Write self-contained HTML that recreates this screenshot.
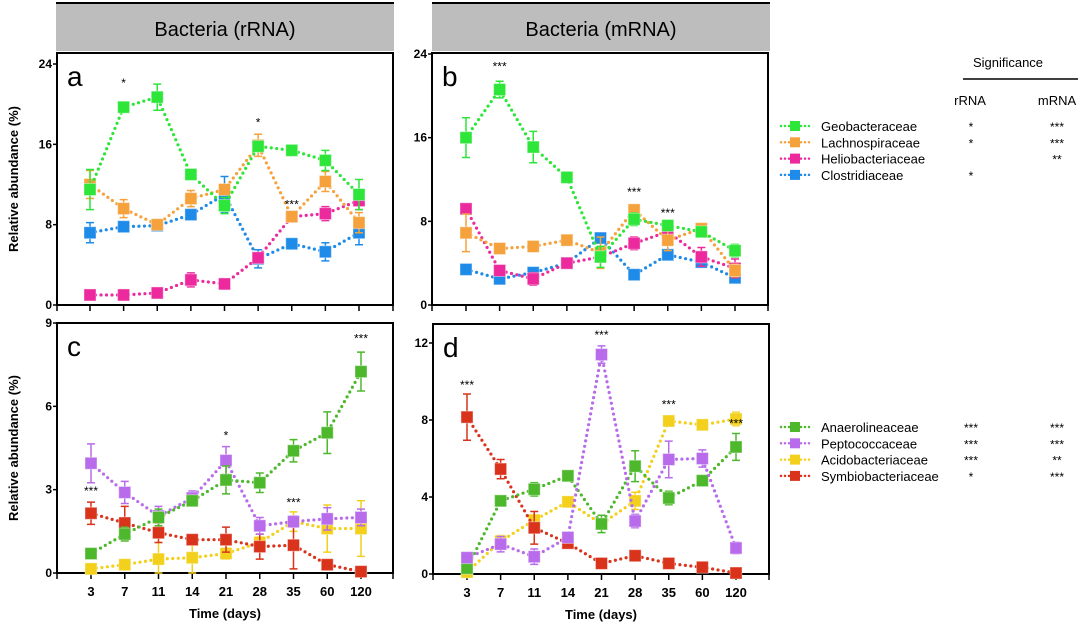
<!DOCTYPE html>
<html><head><meta charset="utf-8"><style>
body{margin:0;background:#fff;width:1080px;height:629px;overflow:hidden}
svg{font-family:"Liberation Sans",Arial,sans-serif}
</style></head><body>
<svg id="fig" width="1080" height="629" viewBox="0 0 1080 629">
<g>
<rect x="56" y="4" width="338" height="47" fill="#bdbdbd"/><line x1="56" y1="3" x2="394" y2="3" stroke="#000" stroke-width="2"/>
<text x="225" y="36" font-size="20" text-anchor="middle">Bacteria (rRNA)</text></g>
<g>
<rect x="432" y="4" width="338" height="47" fill="#bdbdbd"/><line x1="432" y1="3" x2="770" y2="3" stroke="#000" stroke-width="2"/>
<text x="601" y="36" font-size="20" text-anchor="middle">Bacteria (mRNA)</text></g>
<g>
<text x="1008" y="67" font-size="13" text-anchor="middle">Significance</text>
<line x1="963" y1="79" x2="1078" y2="79" stroke="#000" stroke-width="1.5"/>
<text x="970" y="105" font-size="13" text-anchor="middle">rRNA</text>
<text x="1057" y="105" font-size="13" text-anchor="middle">mRNA</text></g>
</svg>
<script>
const days=["3","7","11","14","21","28","35","60","120"];
// panel a (rRNA top)
const aGeo=[11.5,19.7,20.7,13,9.9,15.8,15.4,14.4,11];
const aLach=[12,9.6,8,10.6,11.5,15.9,8.8,12.3,8.2];
const aHelio=[1,1,1.2,2.5,2.1,4.7,8.8,9.1,10.4];
const aClost=[7.2,7.8,7.9,9,11,4.6,6.1,5.3,7.2];
const aGeoErr=[2,0.3,1.3,0.3,0.8,0.4,0.5,1,1.5];
const aLachErr=[1.4,0.9,0.3,0.8,0.5,1.1,0.5,1,1];
const aHelioErr=[0.2,0.2,0.3,0.7,0.3,0.4,0.3,0.7,0.9];
const aClostErr=[1,0.3,0.3,0.3,1.8,0.9,0.3,0.9,1.2];
// panel b (mRNA top)
const bGeo=[16,20.6,15.1,12.2,4.6,8.2,7.6,7.0,5.2];
const bLach=[6.9,5.4,5.6,6.2,5.0,9.1,6.2,7.3,3.3];
const bHelio=[9.2,3.3,2.5,4.0,4.6,5.9,7.0,4.6,3.5];
const bClost=[3.4,2.5,3.1,4.0,6.4,2.9,4.8,4.1,2.6];
const bGeoErr=[1.9,0.8,1.5,0.5,1,0.6,0.5,0.3,0.6];
const bLachErr=[1.8,0.3,0.3,0.3,1.5,0.3,1,0.3,0.6];
const bHelioErr=[0.3,0.3,0.6,0.3,0.5,0.6,0.8,0.9,0.9];
const bClostErr=[0.3,0.3,0.3,0.3,0.3,0.3,0.3,0.3,0.3];
// panel c
const cAna=[0.7,1.4,2.0,2.6,3.35,3.25,4.4,5.05,7.25];
const cPep=[3.95,2.9,2.05,2.7,4.05,1.7,1.85,1.95,2.0];
const cAci=[0.15,0.3,0.5,0.55,0.7,1.1,1.85,1.6,1.6];
const cSym=[2.15,1.8,1.45,1.2,1.2,0.95,1.0,0.3,0.05];
const cAnaErr=[0.1,0.25,0.3,0.15,0.5,0.35,0.4,0.75,0.7];
const cPepErr=[0.7,0.4,0.35,0.25,0.5,0.3,0.2,0.4,0.3];
const cAciErr=[0.1,0.1,0.6,0.6,0.2,0.2,0.35,0.85,1.0];
const cSymErr=[0.4,0.6,0.35,0.15,0.45,0.45,0.85,0.15,0.05];
// panel d
const dAna=[0.3,3.8,4.4,5.1,2.6,5.6,3.95,4.85,6.6];
const dPep=[0.85,1.55,0.9,1.9,11.4,2.75,5.95,6.0,1.35];
const dAci=[0.1,1.7,2.8,3.75,2.6,3.8,7.95,7.75,8.05];
const dSym=[8.15,5.45,2.4,1.6,0.55,0.95,0.55,0.35,0.05];
const dAnaErr=[0.2,0.15,0.35,0.15,0.45,0.8,0.35,0.2,0.7];
const dPepErr=[0.15,0.4,0.4,0.2,0.45,0.35,0.95,0.45,0.3];
const dAciErr=[0.1,0.3,0.2,0.15,0.2,0.45,0.15,0.15,0.35];
const dSymErr=[1.2,0.5,0.85,0.15,0.1,0.1,0.1,0.1,0.05];
const aTicks=[0,8,16,24],bTicks=[0,8,16,24],cTicks=[0,3,6,9],dTicks=[0,4,8,12];
const topNames=["Geobacteraceae","Lachnospiraceae","Heliobacteriaceae","Clostridiaceae"];
const botNames=["Anaerolineaceae","Peptococcaceae","Acidobacteriaceae","Symbiobacteriaceae"];
const topSig=[["*","***"],["*","***"],["","**"],["*",""]];
const botSig=[["***","***"],["***","***"],["***","**"],["*","***"]];
const topCol=["#2ee63a","#f5a23c","#ec2a9e","#1f8be8"];
const botCol=["#4db82b","#b86ceb","#f2d01c","#d9331c"];
const NS="http://www.w3.org/2000/svg";
const svg=document.getElementById('fig');
function mk(tag,at,parent){const e=document.createElementNS(NS,tag);for(const k in at)e.setAttribute(k,at[k]);(parent||svg).appendChild(e);return e;}
function panel(cfg){
  const g=mk('g',{});
  
  
  const X=i=>cfg.x3+i*(cfg.x120-cfg.x3)/8;
  const Y=v=>cfg.y0-(cfg.y0-cfg.yTop)*v/cfg.ymax;
  mk('rect',{x:cfg.L,y:cfg.T,width:cfg.R-cfg.L,height:cfg.y0-cfg.T,fill:'#fff',stroke:'#000','stroke-width':2},g);
  cfg.ticks.forEach(t=>{
    const tl=mk('text',{x:cfg.L-5,y:Y(t)+4,'font-size':12,'font-weight':'bold','text-anchor':'end'},g);tl.textContent=t;
    
    
    mk('line',{x1:cfg.L-4,x2:cfg.L,y1:Y(t),y2:Y(t),stroke:'#000','stroke-width':1.5},g);
  });
  [cfg.L,cfg.R].forEach(x=>mk('line',{x1:x,x2:x,y1:cfg.y0,y2:cfg.y0+6,stroke:'#000','stroke-width':1.5},g));
  days.forEach((d,i)=>{
    mk('line',{x1:X(i),x2:X(i),y1:cfg.y0,y2:cfg.y0+6,stroke:'#000','stroke-width':1.5},g);
    if(cfg.labels){const t=mk('text',{x:X(i),y:cfg.y0+23,'font-size':13,'font-weight':'bold','text-anchor':'middle'},g);t.textContent=d;
      
      }
  });
  if(cfg.labels){const t=mk('text',{x:(cfg.L+cfg.R)/2,y:cfg.y0+45,'font-size':13,'font-weight':'bold','text-anchor':'middle'},g);t.textContent='Time (days)';
    
    }
  if(cfg.ytitle){const cy=(cfg.T+cfg.y0)/2;const t=mk('text',{x:18,y:cy,'font-size':13,'font-weight':'bold','text-anchor':'middle',transform:`rotate(-90 18 ${cy})`},g);t.textContent='Relative abundance (%)';
    
    }
  const lt=mk('text',{x:cfg.L+10,y:cfg.T+33,'font-size':28},g);lt.textContent=cfg.letter;
  
  
  cfg.series.forEach((s,si)=>{
    const sg=mk('g',{},g);
    
    
    mk('polyline',{points:s.v.map((v,i)=>X(i)+','+Y(v)).join(' '),fill:'none',stroke:s.c,'stroke-width':3.2,'stroke-linecap':'round','stroke-dasharray':'0 5.5'},sg);
    s.v.forEach((v,i)=>{
      const e=s.e[i],x=X(i);
      mk('path',{d:`M${x},${Y(v+e)}V${Y(Math.max(0,v-e))}M${x-4},${Y(v+e)}h8M${x-4},${Y(Math.max(0,v-e))}h8`,stroke:s.c,'stroke-width':1.5,fill:'none'},sg);
      const r=mk('rect',{x:x-6,y:Y(v)-6,width:12,height:12,fill:s.c,stroke:'#fff','stroke-opacity':0.4,'stroke-width':1},sg);
      
      
    });
  });
  cfg.stars.forEach(st=>{const t=mk('text',{x:X(st[0]),y:Y(st[1]),'font-size':12,'text-anchor':'middle'},g);t.textContent=st[2];
    
    });
}
panel({name:'panel-a',letter:'a',L:57,R:393,T:53,y0:305,yTop:64,ymax:24,x3:90,x120:359,ticks:aTicks,labels:false,ytitle:true,
 series:[{name:'Clostridiaceae',v:aClost,e:aClostErr,c:topCol[3]},{name:'Heliobacteriaceae',v:aHelio,e:aHelioErr,c:topCol[2]},{name:'Lachnospiraceae',v:aLach,e:aLachErr,c:topCol[1]},{name:'Geobacteraceae',v:aGeo,e:aGeoErr,c:topCol[0]}],
 stars:[[1,21.7,'*'],[5,17.8,'*'],[6,9.6,'***']]});
panel({name:'panel-b',letter:'b',L:432,R:768,T:53,y0:305,yTop:54,ymax:24,x3:466,x120:735,ticks:bTicks,labels:false,ytitle:false,
 series:[{name:'Clostridiaceae',v:bClost,e:bClostErr,c:topCol[3]},{name:'Heliobacteriaceae',v:bHelio,e:bHelioErr,c:topCol[2]},{name:'Lachnospiraceae',v:bLach,e:bLachErr,c:topCol[1]},{name:'Geobacteraceae',v:bGeo,e:bGeoErr,c:topCol[0]}],
 stars:[[1,22.4,'***'],[5,10.4,'***'],[6,8.4,'***']]});
panel({name:'panel-c',letter:'c',L:57,R:393,T:323,y0:573,yTop:323,ymax:9,x3:91,x120:361,ticks:cTicks,labels:true,ytitle:true,
 series:[{name:'Acidobacteriaceae',v:cAci,e:cAciErr,c:botCol[2]},{name:'Symbiobacteriaceae',v:cSym,e:cSymErr,c:botCol[3]},{name:'Peptococcaceae',v:cPep,e:cPepErr,c:botCol[1]},{name:'Anaerolineaceae',v:cAna,e:cAnaErr,c:botCol[0]}],
 stars:[[0,2.8,'***'],[5-1,4.8,'*'],[6,2.4,'***'],[8,8.3,'***']]});
panel({name:'panel-d',letter:'d',L:433,R:769,T:324,y0:574,yTop:343,ymax:12,x3:467,x120:736,ticks:dTicks,labels:true,ytitle:false,
 series:[{name:'Acidobacteriaceae',v:dAci,e:dAciErr,c:botCol[2]},{name:'Symbiobacteriaceae',v:dSym,e:dSymErr,c:botCol[3]},{name:'Anaerolineaceae',v:dAna,e:dAnaErr,c:botCol[0]},{name:'Peptococcaceae',v:dPep,e:dPepErr,c:botCol[1]}],
 stars:[[0,9.6,'***'],[4,12.2,'***'],[6,8.6,'***'],[8,7.6,'***']]});
function legend(names,cols,sig,y0,name){
  const g=mk('g',{});
  
  
  names.forEach((n,i)=>{
    const y=y0+i*16.3;
    const e=mk('g',{},g);
    
    
    mk('line',{x1:781,x2:811,y1:y,y2:y,stroke:cols[i],'stroke-width':2.5,'stroke-linecap':'round','stroke-dasharray':'0 4'},e);
    mk('rect',{x:790,y:y-5,width:10,height:10,fill:cols[i]},e);
    const t=mk('text',{x:821,y:y+5,'font-size':13},e);t.textContent=n;
    const s1=mk('text',{x:971,y:y+5,'font-size':12,'text-anchor':'middle'},e);s1.textContent=sig[i][0];
    const s2=mk('text',{x:1057,y:y+5,'font-size':12,'text-anchor':'middle'},e);s2.textContent=sig[i][1];
  });
}
legend(topNames,topCol,topSig,126,'legend-top');
legend(botNames,botCol,botSig,427,'legend-bottom');
</script>
</body></html>
